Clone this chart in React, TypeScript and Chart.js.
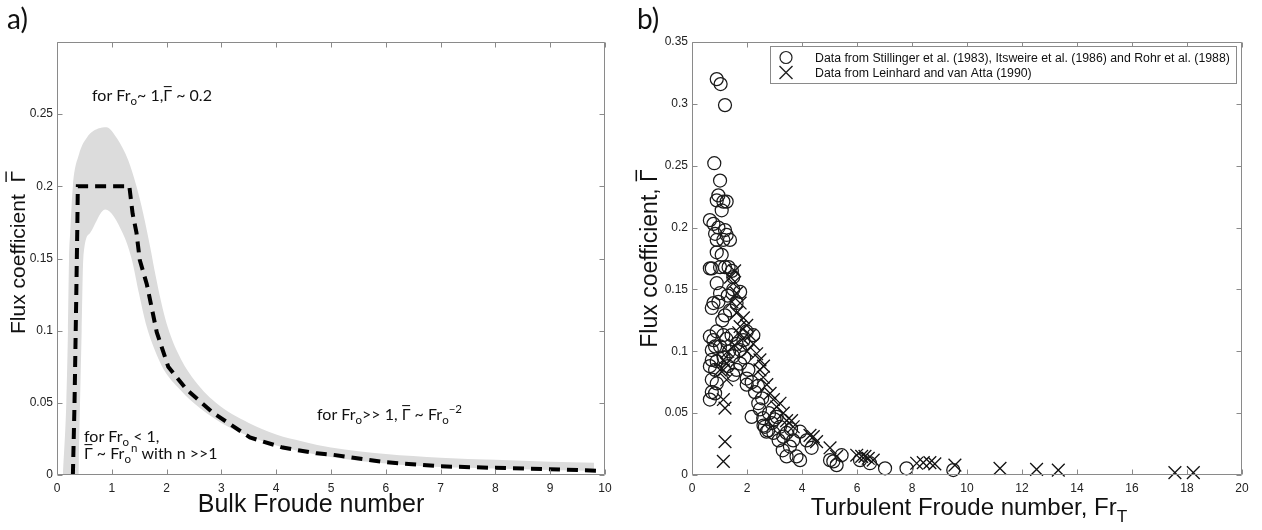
import React, { useEffect, useRef } from 'react';
import { Chart, registerables } from 'chart.js';

Chart.register(...registerables);

// ---------- Panel a data ----------
const bulkFrTicks = [0, 1, 2, 3, 4, 5, 6, 7, 8, 9, 10];
const bulkFrTickLabels = ['0', '1', '2', '3', '4', '5', '6', '7', '8', '9', '10'];
const gammaTicksA = [0, 0.05, 0.1, 0.15, 0.2, 0.25, 0.3];
const gammaTickLabelsA = ['0', '0.05', '0.1', '0.15', '0.2', '0.25', ''];

// dashed model curve
const modelFr = [0.29, 0.32, 0.35, 0.37, 0.38, 1.32, 1.38, 1.45, 1.51, 1.64, 1.82, 2.03, 2.37, 2.85, 3.52, 4.12, 4.74, 5.04, 5.95, 7.0, 7.96, 9.0, 9.85];
const modelGamma = [0, 0.05, 0.12, 0.17, 0.2, 0.2, 0.181, 0.168, 0.149, 0.132, 0.099, 0.075, 0.059, 0.043, 0.026, 0.019, 0.015, 0.014, 0.009, 0.006, 0.005, 0.004, 0.003];

// grey uncertainty band: outer (upper) edge
const bandOuterFr = [0.11, 0.17, 0.2, 0.22, 0.24, 0.29, 0.4, 0.55, 0.75, 0.9, 1.1, 1.3, 1.45, 1.58, 1.7, 1.8, 1.9, 2.0, 2.2, 2.46, 2.9, 3.5, 4.0, 4.5, 5.0, 6.0, 7.0, 8.0, 9.0, 9.8];
const bandOuterGamma = [0, 0.05, 0.1, 0.15, 0.1675, 0.2, 0.222, 0.234, 0.24, 0.241, 0.233, 0.218, 0.2, 0.18, 0.158, 0.138, 0.12, 0.105, 0.085, 0.068, 0.05, 0.036, 0.028, 0.023, 0.019, 0.0145, 0.012, 0.0105, 0.0092, 0.0085];
// grey band: inner (lower) edge
const bandInnerFr = [0.39, 0.42, 0.45, 0.48, 0.6, 0.88, 1.2, 1.36, 1.5, 1.62, 1.78, 1.95, 2.2, 2.49, 3.0, 3.5, 4.0, 4.5, 5.0, 6.0, 7.0, 8.0, 9.0, 9.8];
const bandInnerGamma = [0, 0.05, 0.1, 0.15, 0.1675, 0.184, 0.1675, 0.15, 0.125, 0.105, 0.087, 0.073, 0.061, 0.05, 0.036, 0.027, 0.0205, 0.016, 0.0125, 0.008, 0.0055, 0.0045, 0.0035, 0.003];

// ---------- Panel b data ----------
const turbFrTicks = [0, 2, 4, 6, 8, 10, 12, 14, 16, 18, 20];
const turbFrTickLabels = ['0', '2', '4', '6', '8', '10', '12', '14', '16', '18', '20'];
const gammaTicksB = [0, 0.05, 0.1, 0.15, 0.2, 0.25, 0.3, 0.35];
const gammaTickLabelsB = ['0', '0.05', '0.1', '0.15', '0.2', '0.25', '0.3', '0.35'];

const circleFr = [0.9, 1.04, 1.2, 0.81, 1.02, 0.96, 0.9, 1.14, 1.26, 1.08, 0.65, 0.78, 0.96, 1.2, 0.84, 1.26, 1.38, 0.9, 1.14, 0.9, 1.08, 0.65, 1.02, 1.2, 1.33, 1.45, 0.72, 1.5, 0.9, 1.02, 0.78, 0.72, 0.96, 1.5, 1.75, 1.62, 1.38, 1.2, 0.65, 0.78, 0.9, 1.14, 0.72, 0.84, 1.02, 0.72, 0.9, 0.65, 0.84, 0.72, 0.9, 0.72, 0.84, 0.65, 1.44, 1.62, 1.75, 1.87, 1.99, 2.23, 1.5, 1.75, 1.62, 1.5, 1.99, 1.99, 2.17, 2.29, 2.17, 2.41, 2.47, 2.59, 2.65, 2.77, 2.9, 2.71, 2.96, 3.08, 3.2, 3.32, 3.44, 3.56, 3.68, 3.44, 3.8, 3.93, 3.93, 4.17, 4.35, 5.02, 5.14, 5.26, 5.44, 6.11, 6.47, 7.02, 7.8, 9.5, 1.3, 1.1, 1.25, 1.35, 1.15, 1.3, 1.9, 2.05, 2.4, 2.55, 2.8, 3.0, 3.6, 3.15, 3.3, 2.6];
const circleGamma = [0.32, 0.316, 0.299, 0.252, 0.238, 0.226, 0.222, 0.221, 0.221, 0.214, 0.206, 0.203, 0.2, 0.198, 0.195, 0.194, 0.19, 0.19, 0.19, 0.18, 0.178, 0.167, 0.168, 0.168, 0.168, 0.165, 0.167, 0.16, 0.155, 0.147, 0.139, 0.135, 0.14, 0.15, 0.148, 0.139, 0.133, 0.129, 0.112, 0.109, 0.116, 0.113, 0.101, 0.104, 0.104, 0.093, 0.092, 0.088, 0.085, 0.077, 0.074, 0.067, 0.066, 0.061, 0.113, 0.106, 0.101, 0.109, 0.116, 0.113, 0.096, 0.09, 0.085, 0.081, 0.078, 0.073, 0.075, 0.067, 0.047, 0.058, 0.053, 0.046, 0.039, 0.036, 0.042, 0.035, 0.034, 0.047, 0.039, 0.031, 0.034, 0.023, 0.028, 0.015, 0.015, 0.012, 0.035, 0.028, 0.022, 0.012, 0.011, 0.008, 0.016, 0.012, 0.0095, 0.0054, 0.0054, 0.004, 0.145, 0.125, 0.11, 0.1, 0.095, 0.088, 0.095, 0.085, 0.072, 0.062, 0.05, 0.045, 0.037, 0.028, 0.02, 0.04];

const crossFr = [1.2, 1.14, 1.2, 1.14, 1.02, 1.14, 1.26, 1.14, 1.5, 1.62, 1.75, 1.62, 1.87, 1.75, 1.99, 2.11, 2.23, 2.35, 2.47, 2.47, 2.59, 2.72, 2.84, 2.96, 3.08, 3.32, 3.44, 3.62, 3.68, 4.29, 4.41, 4.53, 5.02, 5.26, 5.99, 6.17, 6.29, 6.41, 6.59, 8.17, 8.41, 8.65, 8.83, 9.56, 11.2, 12.53, 13.32, 17.56, 18.23, 1.4, 1.55, 1.45, 1.7, 1.85, 1.3, 1.25, 1.55, 2.6, 2.0, 3.2];
const crossGamma = [0.054, 0.061, 0.027, 0.011, 0.085, 0.085, 0.077, 0.093, 0.155, 0.147, 0.139, 0.131, 0.127, 0.12, 0.121, 0.113, 0.106, 0.098, 0.093, 0.085, 0.079, 0.073, 0.066, 0.061, 0.055, 0.05, 0.044, 0.044, 0.039, 0.032, 0.031, 0.027, 0.022, 0.015, 0.016, 0.015, 0.015, 0.0135, 0.012, 0.0095, 0.01, 0.01, 0.009, 0.008, 0.0054, 0.0046, 0.004, 0.0019, 0.0019, 0.16, 0.165, 0.14, 0.115, 0.11, 0.1, 0.09, 0.105, 0.088, 0.1, 0.058];

const legendLabels = [
  'Data from Stillinger et al. (1983), Itsweire et al. (1986) and Rohr et al. (1988)',
  'Data from Leinhard and van Atta (1990)',
];

// ---------- styling ----------
const SANS = '"Liberation Sans", Arial, Helvetica, sans-serif';
const NOTE = 'Lato, "Open Sans", sans-serif';
const FRAME = '#8a8a8a';
const TICKTXT = '#222';

type Part = [string, 'n' | 'b' | 'p' | 'o'];

function partFont(size: number, kind: string, family: string) {
  return kind === 'b' || kind === 'p' ? `${size * 0.72}px ${family}` : `${size}px ${family}`;
}

function runsWidth(ctx: CanvasRenderingContext2D, parts: Part[], size: number, family: string) {
  let w = 0;
  for (const [t, k] of parts) {
    ctx.font = partFont(size, k, family);
    w += ctx.measureText(t).width;
  }
  return w;
}

function drawRuns(ctx: CanvasRenderingContext2D, x: number, y: number, parts: Part[], size: number, family: string, align: 'left' | 'center' = 'left', color = '#111') {
  ctx.save();
  ctx.fillStyle = color;
  ctx.strokeStyle = color;
  ctx.textAlign = 'left';
  ctx.textBaseline = 'alphabetic';
  let cx = align === 'center' ? x - runsWidth(ctx, parts, size, family) / 2 : x;
  for (const [t, k] of parts) {
    ctx.font = partFont(size, k, family);
    const w = ctx.measureText(t).width;
    let dy = 0;
    if (k === 'b') dy = size * 0.28;
    if (k === 'p') dy = -size * 0.45;
    ctx.fillText(t, cx, y + dy);
    if (k === 'o') {
      ctx.lineWidth = Math.max(1, size / 15);
      ctx.beginPath();
      ctx.moveTo(cx + w * 0.05, y - size * 0.9);
      ctx.lineTo(cx + w * 0.95, y - size * 0.9);
      ctx.stroke();
    }
    cx += w;
  }
  ctx.restore();
}

function framePlugin(id: string, draw: (ctx: CanvasRenderingContext2D, chart: any) => void) {
  return {
    id,
    afterDraw(chart: any) {
      const { ctx, chartArea: a } = chart;
      const xs = chart.scales.x;
      const ys = chart.scales.y;
      const L = Math.round(a.left) + 0.5;
      const R = Math.round(a.right) - 0.5;
      const T = Math.round(a.top) + 0.5;
      const B = Math.round(a.bottom) - 0.5;
      ctx.save();
      ctx.strokeStyle = FRAME;
      ctx.lineWidth = 1;
      ctx.beginPath();
      ctx.rect(L, T, R - L, B - T);
      for (const t of xs.ticks) {
        const p = Math.round(xs.getPixelForValue(t.value)) + 0.5;
        ctx.moveTo(p, B); ctx.lineTo(p, B - 5);
        ctx.moveTo(p, T); ctx.lineTo(p, T + 5);
      }
      for (const t of ys.ticks) {
        const p = Math.round(ys.getPixelForValue(t.value)) + 0.5;
        ctx.moveTo(L, p); ctx.lineTo(L + 5, p);
        ctx.moveTo(R, p); ctx.lineTo(R - 5, p);
      }
      ctx.stroke();
      ctx.restore();
      draw(ctx, chart);
    },
  };
}

function axisX(ticks: number[], labels: string[], min: number, max: number, height: number) {
  return {
    type: 'linear' as const,
    min,
    max,
    afterBuildTicks: (s: any) => { s.ticks = ticks.map((v) => ({ value: v })); },
    afterFit: (s: any) => { s.height = height; },
    grid: { display: false, drawTicks: false },
    border: { display: false },
    ticks: {
      autoSkip: false,
      maxRotation: 0,
      padding: 6,
      color: TICKTXT,
      font: { family: SANS, size: 12 },
      callback: (_v: any, i: number) => labels[i],
    },
  };
}

function axisY(ticks: number[], labels: string[], min: number, max: number, width: number) {
  return {
    type: 'linear' as const,
    min,
    max,
    afterBuildTicks: (s: any) => { s.ticks = ticks.map((v) => ({ value: v })); },
    afterFit: (s: any) => { s.width = width; },
    grid: { display: false, drawTicks: false },
    border: { display: false },
    ticks: {
      autoSkip: false,
      padding: 4,
      color: TICKTXT,
      font: { family: SANS, size: 12 },
      callback: (_v: any, i: number) => labels[i],
    },
  };
}

const zip = (xs: number[], ys: number[]) => xs.map((x, i) => ({ x, y: ys[i] }));

export default function App() {
  const refA = useRef<HTMLCanvasElement>(null);
  const refB = useRef<HTMLCanvasElement>(null);

  useEffect(() => {
    const drawA = (ctx: CanvasRenderingContext2D, chart: any) => {
      const a = chart.chartArea;
      ctx.save();
      ctx.fillStyle = '#111';
      ctx.font = `28px ${NOTE}`;
      ctx.textAlign = 'left';
      ctx.textBaseline = 'alphabetic';
      ctx.fillText('a)', 7, 29);
      ctx.restore();
      drawRuns(ctx, 311, 512, [['Bulk Froude number', 'n']], 25, SANS, 'center');
      ctx.save();
      ctx.translate(25, (a.top + a.bottom) / 2 - 6);
      ctx.rotate(-Math.PI / 2);
      drawRuns(ctx, 0, 0, [['Flux coefficient  ', 'n'], ['Γ', 'o']], 21, SANS, 'center');
      ctx.restore();
      drawRuns(ctx, 92, 101, [['for Fr', 'n'], ['o', 'b'], ['~ 1,', 'n'], ['Γ', 'o'], [' ~ 0.2', 'n']], 16, NOTE);
      drawRuns(ctx, 84, 442, [['for Fr', 'n'], ['o', 'b'], [' < 1,', 'n']], 16, NOTE);
      drawRuns(ctx, 84, 459, [['Γ', 'o'], [' ~ Fr', 'n'], ['o', 'b'], ['n', 'p'], [' with n >>1', 'n']], 16, NOTE);
      drawRuns(ctx, 317, 420, [['for Fr', 'n'], ['o', 'b'], ['>> 1, ', 'n'], ['Γ', 'o'], [' ~ Fr', 'n'], ['o', 'b'], ['−2', 'p']], 16, NOTE);
    };

    const drawB = (ctx: CanvasRenderingContext2D, chart: any) => {
      const a = chart.chartArea;
      ctx.save();
      ctx.fillStyle = '#111';
      ctx.font = `28px ${NOTE}`;
      ctx.textAlign = 'left';
      ctx.textBaseline = 'alphabetic';
      ctx.fillText('b)', 7, 29);
      ctx.restore();
      drawRuns(ctx, 339, 515, [['Turbulent Froude number, Fr', 'n'], ['T', 'b']], 24, SANS, 'center');
      ctx.save();
      ctx.translate(27, (a.top + a.bottom) / 2);
      ctx.rotate(-Math.PI / 2);
      drawRuns(ctx, 0, 0, [['Flux coefficient, ', 'n'], ['Γ', 'o']], 23, SANS, 'center');
      ctx.restore();
      // legend
      const ds = chart.data.datasets;
      ctx.save();
      ctx.fillStyle = '#fff';
      ctx.fillRect(140.5, 46.5, 466, 37);
      ctx.strokeStyle = '#8a8a8a';
      ctx.lineWidth = 1;
      ctx.strokeRect(140.5, 46.5, 466, 37);
      ctx.strokeStyle = '#222';
      ctx.lineWidth = 1.2;
      ctx.beginPath();
      ctx.arc(156, 57.5, 6, 0, Math.PI * 2);
      ctx.stroke();
      ctx.lineWidth = 1.4;
      ctx.beginPath();
      ctx.moveTo(149.5, 66); ctx.lineTo(162.5, 79);
      ctx.moveTo(162.5, 66); ctx.lineTo(149.5, 79);
      ctx.stroke();
      ctx.fillStyle = '#111';
      ctx.font = `12.3px ${SANS}`;
      ctx.textAlign = 'left';
      ctx.textBaseline = 'alphabetic';
      ctx.fillText(ds[0].label, 185, 62);
      ctx.fillText(ds[1].label, 185, 77);
      ctx.restore();
    };

    const chartA = new Chart(refA.current as HTMLCanvasElement, {
      type: 'line',
      data: {
        datasets: [
          {
            label: 'model',
            data: zip(modelFr, modelGamma),
            borderColor: '#000',
            borderWidth: 4,
            borderDash: [11, 7],
            pointRadius: 0,
            fill: false,
            tension: 0,
            order: 0,
          },
          {
            label: 'band inner',
            data: zip(bandInnerFr, bandInnerGamma),
            borderColor: 'rgba(0,0,0,0)',
            borderWidth: 1,
            backgroundColor: '#ffffff',
            pointRadius: 0,
            fill: 'origin',
            cubicInterpolationMode: 'monotone',
            order: 1,
          },
          {
            label: 'band outer',
            data: zip(bandOuterFr, bandOuterGamma),
            borderColor: 'rgba(0,0,0,0)',
            borderWidth: 1,
            backgroundColor: '#dcdcdc',
            pointRadius: 0,
            fill: 'origin',
            cubicInterpolationMode: 'monotone',
            order: 2,
          },
        ],
      } as any,
      options: {
        animation: false,
        responsive: false,
        maintainAspectRatio: false,
        events: [],
        layout: { padding: { left: 0, right: 25, top: 42, bottom: 0 } },
        plugins: { legend: { display: false }, tooltip: { enabled: false } },
        scales: {
          x: axisX(bulkFrTicks, bulkFrTickLabels, 0, 10, 55),
          y: axisY(gammaTicksA, gammaTickLabelsA, 0, 0.3, 57),
        },
      } as any,
      plugins: [framePlugin('frameA', drawA)],
    });

    const chartB = new Chart(refB.current as HTMLCanvasElement, {
      type: 'scatter',
      data: {
        datasets: [
          {
            label: legendLabels[0],
            data: zip(circleFr, circleGamma),
            pointStyle: 'circle',
            pointRadius: 6.5,
            borderWidth: 1.25,
            borderColor: '#1a1a1a',
            backgroundColor: 'rgba(0,0,0,0)',
            clip: false,
          },
          {
            label: legendLabels[1],
            data: zip(crossFr, crossGamma),
            pointStyle: 'crossRot',
            pointRadius: 9,
            borderWidth: 1.3,
            borderColor: '#111',
            backgroundColor: 'rgba(0,0,0,0)',
            clip: false,
          },
        ],
      } as any,
      options: {
        animation: false,
        responsive: false,
        maintainAspectRatio: false,
        events: [],
        layout: { padding: { left: 0, right: 20, top: 42, bottom: 0 } },
        plugins: { legend: { display: false }, tooltip: { enabled: false } },
        scales: {
          x: axisX(turbFrTicks, turbFrTickLabels, 0, 20, 55),
          y: axisY(gammaTicksB, gammaTickLabelsB, 0, 0.35, 62),
        },
      } as any,
      plugins: [framePlugin('frameB', drawB)],
    });

    return () => {
      chartA.destroy();
      chartB.destroy();
    };
  }, []);

  return (
    <div style={{ position: 'absolute', left: 0, top: 0, width: 1262, height: 530, background: '#fff' }}>
      <canvas ref={refA} width={630} height={530} style={{ position: 'absolute', left: 0, top: 0, width: 630, height: 530 }} />
      <canvas ref={refB} width={632} height={530} style={{ position: 'absolute', left: 630, top: 0, width: 632, height: 530 }} />
    </div>
  );
}
